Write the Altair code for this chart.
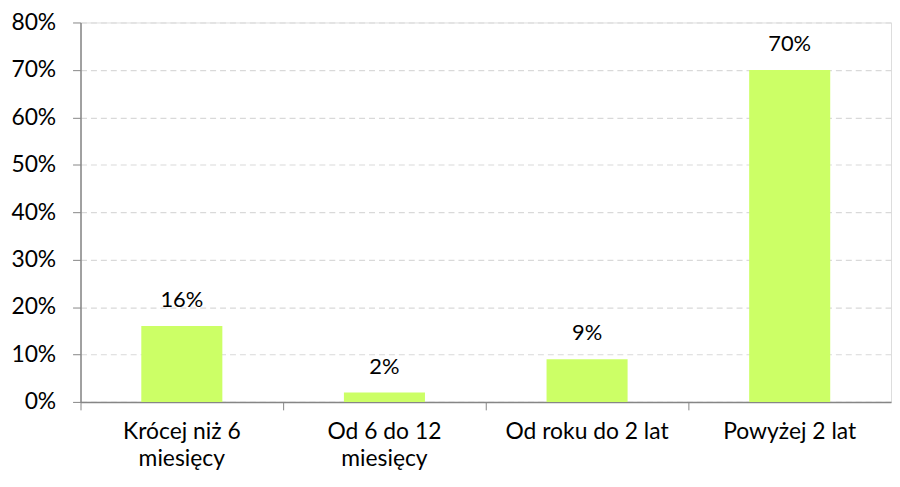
import altair as alt
import pandas as pd

categories = ["Krócej niż 6\nmiesięcy", "Od 6 do 12\nmiesięcy", "Od roku do 2 lat", "Powyżej 2 lat"]
values = [16, 2, 9, 70]
y_ticks = [0, 10, 20, 30, 40, 50, 60, 70, 80]

df = pd.DataFrame({"cat": categories, "val": values})
df["label"] = [f"{v}%" for v in values]

FONT = "Lato"
AXIS_GRAY = "#868686"

x_enc = alt.X(
    "cat:N",
    sort=None,
    scale=alt.Scale(paddingInner=0, paddingOuter=0),
    axis=alt.Axis(
        title=None,
        bandPosition=0,
        labelAngle=0,
        labelExpr="split(datum.label, '\\n')",
        labelFont=FONT,
        labelFontSize=23,
        labelColor="#000000",
        labelPadding=11,
        labelLineHeight=27,
        labelBaseline="top",
        tickSize=8,
        tickColor=AXIS_GRAY,
        domainColor=AXIS_GRAY,
        domainWidth=1.5,
        grid=False,
    ),
)

y_enc = alt.Y(
    "val:Q",
    scale=alt.Scale(domain=[0, 80], nice=False),
    axis=alt.Axis(
        title=None,
        values=y_ticks,
        labelExpr="datum.value + '%'",
        labelFont=FONT,
        labelFontSize=23,
        labelColor="#000000",
        labelPadding=17,
        tickSize=8,
        tickColor=AXIS_GRAY,
        domainColor=AXIS_GRAY,
        domainWidth=1.5,
        grid=True,
        gridColor="#d9d9d9",
        gridDash=[6, 4],
        gridWidth=1.2,
    ),
)

bars = alt.Chart(df).mark_bar(color="#ccff66", width=alt.RelativeBandSize(0.4)).encode(
    x=x_enc, y=y_enc
)

text = alt.Chart(df).mark_text(
    font=FONT, fontSize=22, color="#000000", baseline="alphabetic", dy=-19
).encode(x=alt.X("cat:N", sort=None), y="val:Q", text="label:N")

chart = (
    alt.layer(bars, text)
    .properties(
        width=816,
        height=382,
        autosize=alt.AutoSizeParams(type="none"),
        padding={"left": 73, "top": 13, "right": 1, "bottom": 69},
    )
    .configure_view(stroke=None)
    .configure(background="white")
)

chart.save("out.html", embed_options={"renderer": "svg", "actions": False})
